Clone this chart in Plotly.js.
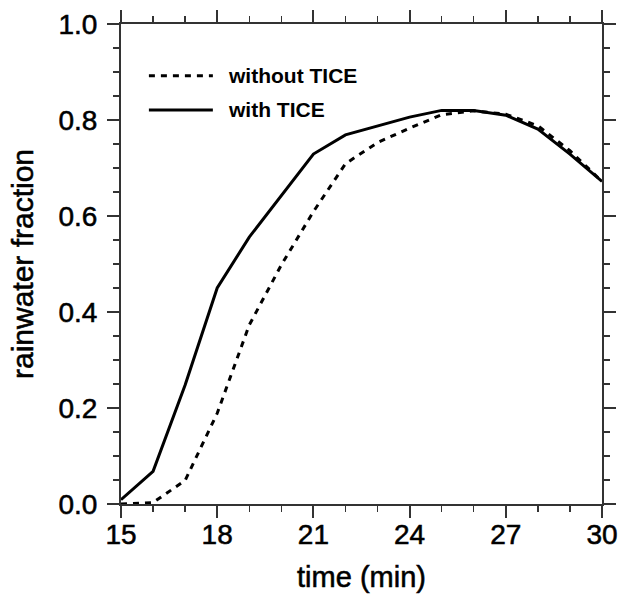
<!DOCTYPE html>
<html>
<head>
<meta charset="utf-8">
<script src="https://cdn.plot.ly/plotly-3.0.1.min.js"></script>
<style>
  html, body { margin: 0; padding: 0; background: #fff; }
  #chart { width: 623px; height: 605px; }
  /* slightly heavier glyphs for tick labels and axis titles */
  #chart .xtick text, #chart .ytick text,
  #chart .xtitle, #chart .ytitle { stroke: #000; stroke-width: 0.55px; }
</style>
</head>
<body>
<div id="chart"></div>
<script>
// time in minutes
const timeMin = [15, 16, 17, 18, 19, 20, 21, 22, 23, 24, 25, 26, 27, 28, 29, 30];

// rainwater fraction, without TICE (dotted)
const withoutTICE = [0.000, 0.003, 0.049, 0.189, 0.373, 0.498, 0.609, 0.709, 0.753, 0.783, 0.811, 0.819, 0.812, 0.788, 0.736, 0.672];

// rainwater fraction, with TICE (solid)
const withTICE = [0.009, 0.068, 0.248, 0.450, 0.556, 0.643, 0.729, 0.769, 0.787, 0.806, 0.820, 0.820, 0.810, 0.781, 0.729, 0.672];

const seriesNames = ['without TICE', 'with TICE'];

const xTickVals = [15, 18, 21, 24, 27, 30];
const yTickVals = [0.0, 0.2, 0.4, 0.6, 0.8, 1.0];
const yTickText = ['0.0', '0.2', '0.4', '0.6', '0.8', '1.0'];

const FONT = '"Liberation Sans", Arial, Helvetica, sans-serif';

const traces = [
  {
    x: timeMin, y: withoutTICE, name: seriesNames[0], type: 'scatter', mode: 'lines',
    line: { color: '#000', width: 3, dash: '6px,6px' }, showlegend: false, cliponaxis: false
  },
  {
    x: timeMin, y: withTICE, name: seriesNames[1], type: 'scatter', mode: 'lines',
    line: { color: '#000', width: 3 }, showlegend: false, cliponaxis: false
  }
];

const axisCommon = {
  showgrid: false, zeroline: false,
  showline: true, linecolor: '#333', linewidth: 2, mirror: 'allticks',
  ticks: 'outside', ticklen: 12, tickwidth: 2, tickcolor: '#333',
  tickfont: { family: FONT, size: 28, color: '#000' }
};

const layout = {
  width: 623, height: 605,
  margin: { l: 121, r: 21, t: 24, b: 101 },
  paper_bgcolor: '#fff', plot_bgcolor: '#fff',
  font: { family: FONT, color: '#000' },
  xaxis: Object.assign({}, axisCommon, {
    range: [15, 30],
    tickmode: 'array', tickvals: xTickVals,
    ticklabelstandoff: -8,
    minor: { dtick: 1, ticks: 'outside', ticklen: 6, tickwidth: 1.5, tickcolor: '#333' },
    title: { text: 'time (min)', font: { family: FONT, size: 29, color: '#000' }, standoff: 18 }
  }),
  yaxis: Object.assign({}, axisCommon, {
    range: [0, 1],
    tickmode: 'array', tickvals: yTickVals, ticktext: yTickText,
    ticklabelstandoff: 4,
    minor: { dtick: 0.05, ticks: 'outside', ticklen: 6, tickwidth: 1.5, tickcolor: '#333' },
    title: { text: 'rainwater fraction', font: { family: FONT, size: 30, color: '#000' }, standoff: 16 }
  }),
  shapes: [
    { type: 'line', xref: 'paper', yref: 'paper', x0: 0.058, x1: 0.191, y0: 0.892, y1: 0.892,
      line: { color: '#000', width: 3, dash: '6px,6px' } },
    { type: 'line', xref: 'paper', yref: 'paper', x0: 0.058, x1: 0.191, y0: 0.821, y1: 0.821,
      line: { color: '#000', width: 3 } }
  ],
  annotations: [
    { xref: 'paper', yref: 'paper', x: 0.218, y: 0.892, xanchor: 'left', yanchor: 'middle',
      text: '<b>' + seriesNames[0] + '</b>', showarrow: false,
      font: { family: FONT, size: 21, color: '#000' } },
    { xref: 'paper', yref: 'paper', x: 0.218, y: 0.821, xanchor: 'left', yanchor: 'middle',
      text: '<b>' + seriesNames[1] + '</b>', showarrow: false,
      font: { family: FONT, size: 21, color: '#000' } }
  ]
};

Plotly.newPlot('chart', traces, layout, { displayModeBar: false, staticPlot: true });
</script>
</body>
</html>
